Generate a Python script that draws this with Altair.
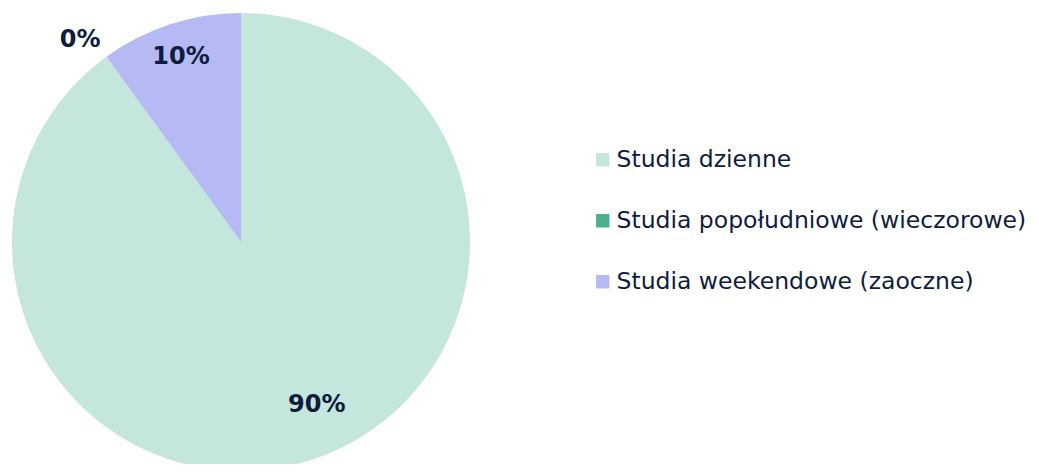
import altair as alt
import pandas as pd

categories = ["Studia dzienne", "Studia popołudniowe (wieczorowe)", "Studia weekendowe (zaoczne)"]
values = [90, 0, 10]
labels = ["90%", "0%", "10%"]
colors = ["#c4e6dc", "#4caf8d", "#b5baf5"]
order_idx = [0, 1, 2]

df = pd.DataFrame({"category": categories, "value": values, "label": labels, "idx": order_idx})

FONT = "DejaVu Sans"
TXT = "#0e1d3d"
CX, CY, R = 233, 234, 229

color = alt.Color(
    "category:N",
    scale=alt.Scale(domain=categories, range=colors),
    sort=categories,
    legend=alt.Legend(
        title=None,
        orient="none",
        legendX=583,
        legendY=140,
        symbolType="square",
        symbolSize=180,
        symbolStrokeWidth=0,
        labelFont=FONT,
        labelFontSize=23.5,
        labelColor=TXT,
        labelOffset=2,
        rowPadding=36,
        padding=0,
        labelLimit=600,
    ),
)

arc = alt.Chart(df).mark_arc(stroke=None).encode(
    theta=alt.Theta("value:Q", stack=True),
    order=alt.Order("idx:Q"),
    color=color,
    x=alt.value(CX),
    y=alt.value(CY),
    radius=alt.value(R),
)

text = (
    alt.Chart(df)
    .transform_joinaggregate(total="sum(value)")
    .transform_window(cum="sum(value)", sort=[alt.SortField("idx")], frame=[None, 0])
    .transform_calculate(
        ang="2*PI*(datum.cum - datum.value/2)/datum.total + (datum.value > 50 ? -0.12 : (datum.value == 0 ? -0.045 : 0))",
        r="datum.value == 0 ? 258 : (datum.value > 50 ? 180 : 194)",
    )
    .mark_text(font=FONT, fontSize=24, fontWeight="bold", color=TXT)
    .encode(
        theta=alt.Theta("ang:Q", scale=None),
        radius=alt.Radius("r:Q", scale=None),
        text="label:N",
        x=alt.value(CX),
        y=alt.value(CY),
    )
)

chart = (
    alt.layer(arc, text)
    .resolve_scale(theta="independent", radius="independent")
    .properties(width=1023, height=456, autosize=alt.AutoSizeParams(type="none"), padding=0)
    .configure_view(stroke=None)
)

chart.save("out.html", embed_options={"renderer": "svg", "actions": False})
